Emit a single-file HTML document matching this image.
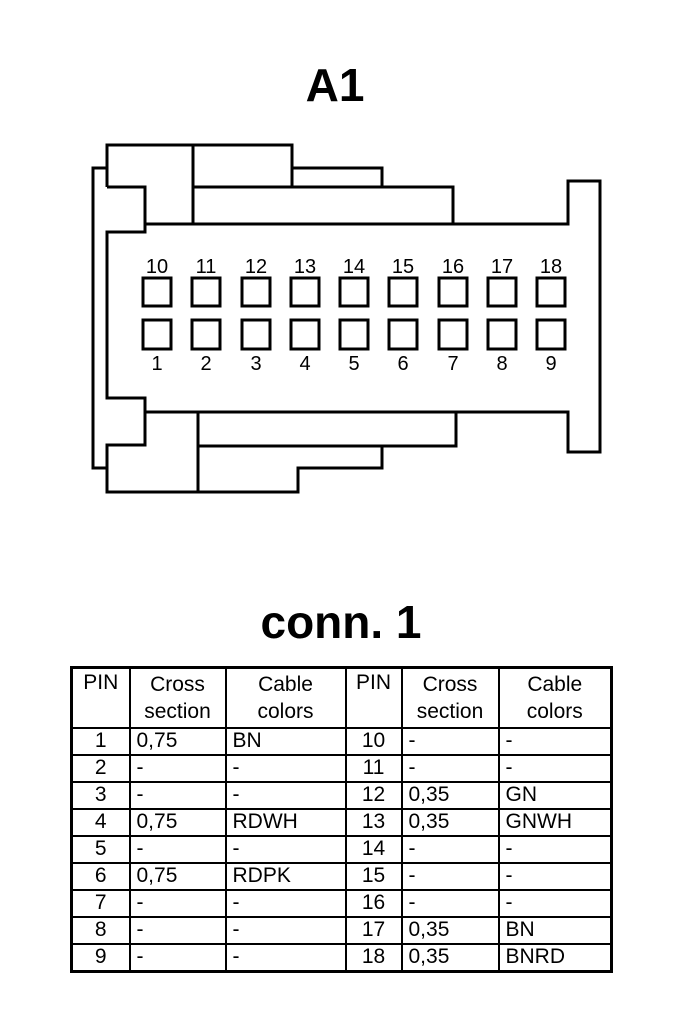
<!DOCTYPE html>
<html><head><style>
body{margin:0;background:#fff;width:688px;height:1024px;overflow:hidden;font-family:"Liberation Sans",Arial,sans-serif}
table{position:absolute;left:70px;top:666px;border-collapse:collapse;font-size:21px;line-height:20px}
td{border:2px solid #000;padding:0 0 0 6px;height:25px;vertical-align:middle}
</style></head><body>
<svg width="688" height="1024" style="position:absolute;left:0;top:0" font-family="Liberation Sans, Arial, sans-serif">
<text x="335" y="101" font-size="46" font-weight="bold" text-anchor="middle">A1</text>
<text x="341" y="638" font-size="46" font-weight="bold" text-anchor="middle">conn. 1</text>
<g fill="none" stroke="#000" stroke-width="3">
<polyline points="107,168 93,168 93,468 107,468"/>
<polyline points="107,187 107,145 292,145 292,168 382,168 382,187 453,187 453,224 568,224 568,181 600,181 600,452 568,452 568,412 145,412"/>
<polyline points="145,224 145,187 107,187"/>
<polyline points="145,224 568,224"/>
<polyline points="145,224 145,232 107,232 107,398 145,398 145,445 107,445 107,492 298,492 298,468 382,468 382,446 456,446 456,412"/>
<line x1="145" y1="398" x2="145" y2="412"/>
<line x1="193" y1="145" x2="193" y2="224"/>
<line x1="193" y1="187" x2="382" y2="187"/>
<line x1="292" y1="168" x2="292" y2="187"/>
<line x1="198" y1="412" x2="198" y2="492"/>
<line x1="198" y1="446" x2="382" y2="446"/>
</g>
<g fill="none" stroke="#000" stroke-width="3">
<rect x="143" y="278" width="28" height="28"/><rect x="192" y="278" width="28" height="28"/><rect x="242" y="278" width="28" height="28"/><rect x="291" y="278" width="28" height="28"/><rect x="340" y="278" width="28" height="28"/><rect x="389" y="278" width="28" height="28"/><rect x="439" y="278" width="28" height="28"/><rect x="488" y="278" width="28" height="28"/><rect x="537" y="278" width="28" height="28"/>
<rect x="143" y="320" width="28" height="29"/><rect x="192" y="320" width="28" height="29"/><rect x="242" y="320" width="28" height="29"/><rect x="291" y="320" width="28" height="29"/><rect x="340" y="320" width="28" height="29"/><rect x="389" y="320" width="28" height="29"/><rect x="439" y="320" width="28" height="29"/><rect x="488" y="320" width="28" height="29"/><rect x="537" y="320" width="28" height="29"/>
</g>
<g font-size="20" text-anchor="middle">
<text x="157" y="273">10</text><text x="206" y="273">11</text><text x="256" y="273">12</text><text x="305" y="273">13</text><text x="354" y="273">14</text><text x="403" y="273">15</text><text x="453" y="273">16</text><text x="502" y="273">17</text><text x="551" y="273">18</text>
<text x="157" y="370">1</text><text x="206" y="370">2</text><text x="256" y="370">3</text><text x="305" y="370">4</text><text x="354" y="370">5</text><text x="403" y="370">6</text><text x="453" y="370">7</text><text x="502" y="370">8</text><text x="551" y="370">9</text>
</g>
</svg>
<table style="border:3px solid #000">
<colgroup><col style="width:58px"><col style="width:96px"><col style="width:120px"><col style="width:56px"><col style="width:97px"><col style="width:113px"></colgroup>
<tr style="height:60px"><td style="text-align:center;vertical-align:top;padding:4px 0 0">PIN</td><td style="text-align:center;padding:0;line-height:27px">Cross<br>section</td><td style="text-align:center;padding:0;line-height:27px">Cable<br>colors</td><td style="text-align:center;vertical-align:top;padding:4px 0 0">PIN</td><td style="text-align:center;padding:0;line-height:27px">Cross<br>section</td><td style="text-align:center;padding:0;line-height:27px">Cable<br>colors</td></tr>
<tr><td style="text-align:center;padding:0">1</td><td>0,75</td><td>BN</td><td style="text-align:center;padding:0">10</td><td>-</td><td>-</td></tr>
<tr><td style="text-align:center;padding:0">2</td><td>-</td><td>-</td><td style="text-align:center;padding:0">11</td><td>-</td><td>-</td></tr>
<tr><td style="text-align:center;padding:0">3</td><td>-</td><td>-</td><td style="text-align:center;padding:0">12</td><td>0,35</td><td>GN</td></tr>
<tr><td style="text-align:center;padding:0">4</td><td>0,75</td><td>RDWH</td><td style="text-align:center;padding:0">13</td><td>0,35</td><td>GNWH</td></tr>
<tr><td style="text-align:center;padding:0">5</td><td>-</td><td>-</td><td style="text-align:center;padding:0">14</td><td>-</td><td>-</td></tr>
<tr><td style="text-align:center;padding:0">6</td><td>0,75</td><td>RDPK</td><td style="text-align:center;padding:0">15</td><td>-</td><td>-</td></tr>
<tr><td style="text-align:center;padding:0">7</td><td>-</td><td>-</td><td style="text-align:center;padding:0">16</td><td>-</td><td>-</td></tr>
<tr><td style="text-align:center;padding:0">8</td><td>-</td><td>-</td><td style="text-align:center;padding:0">17</td><td>0,35</td><td>BN</td></tr>
<tr><td style="text-align:center;padding:0">9</td><td>-</td><td>-</td><td style="text-align:center;padding:0">18</td><td>0,35</td><td>BNRD</td></tr>
</table>
</body></html>
